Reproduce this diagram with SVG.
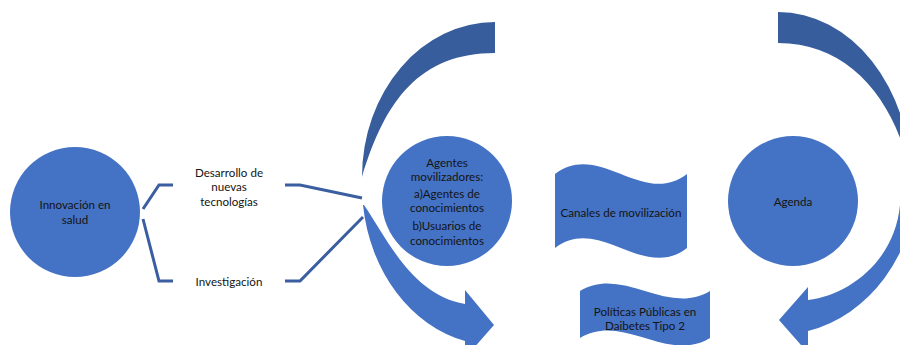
<svg xmlns="http://www.w3.org/2000/svg" width="900" height="345" viewBox="0 0 900 345">
<style>
.node{fill:#4472c4}
.dark{fill:#375d9d}
.light{fill:#4472c4}
.ln{fill:none;stroke:#3b5ea0;stroke-width:3;stroke-linejoin:miter}
text{font-family:Lato,"Liberation Sans",sans-serif;font-size:11.6px;fill:#141414;text-anchor:middle;dominant-baseline:central}
</style>
<rect width="900" height="345" fill="#ffffff"/>
<g id="connectors">
<path class="ln" d="M143,209 L159,185 L173,185"/>
<path class="ln" d="M143,219 L159,281 L173,281"/>
<path class="ln" d="M285,185 L300,185 L362,198"/>
<path class="ln" d="M285,281 L300,281 L363,217"/>
<path class="dark" d="M495,22 A133,155 0 0 0 362,177 C385,100 420,53 495,53 Z"/>
<path class="light" d="M363,205 A133,160 0 0 0 465,341 L465,358 L494,325 L465,290 L465,304 C412,295 388,240 364,205 Z"/>
<path class="dark" d="M778,12 A133,168 0 0 1 911,180 L911,175 C895,100 850,43 778,43 Z"/>
<path class="light" d="M916,185 A140,155 0 0 1 808,331 L808,353 L779,320 L808,287 L808,300 C850,295 895,260 900,205 Z"/>
</g>
<g id="innovacion">
<circle class="node" cx="75" cy="212" r="65"/>
<text x="75" y="204.5">Innovación en</text>
<text x="75" y="219.5">salud</text>
</g>
<g id="desarrollo">
<text x="229" y="172">Desarrollo de</text>
<text x="229" y="186.5">nuevas</text>
<text x="229" y="201">tecnologías</text>
</g>
<g id="investigacion">
<text x="229" y="281">Investigación</text>
</g>
<g id="agentes">
<circle class="node" cx="447" cy="201" r="65"/>
<text x="447" y="162">Agentes</text>
<text x="447" y="176.5">movilizadores:</text>
<text x="447" y="193">a)Agentes de</text>
<text x="447" y="207.5">conocimientos</text>
<text x="447" y="225.5">b)Usuarios de</text>
<text x="447" y="240">conocimientos</text>
</g>
<g id="canales">
<path class="node" d="M555,174 C599,140 643,208 687,174 L687,248 C643,282 599,214 555,248 Z"/>
<text x="621" y="212">Canales de movilización</text>
</g>
<g id="agenda">
<circle class="node" cx="793" cy="201" r="65"/>
<text x="793" y="201">Agenda</text>
</g>
<g id="politicas">
<path class="node" d="M580,291 C623,265 667,317 710,291 L710,338 C667,364 623,312 580,338 Z"/>
<text x="645" y="311.5">Políticas Públicas en</text>
<text x="645" y="325.5">Daibetes Tipo 2</text>
</g>
</svg>
